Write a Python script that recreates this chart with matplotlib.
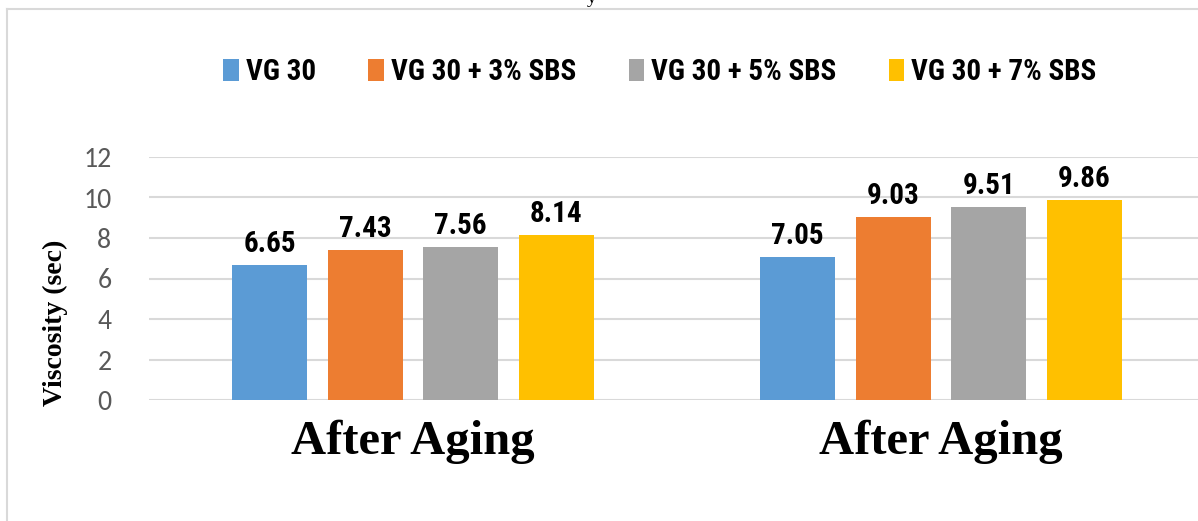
import matplotlib
matplotlib.use("Agg")
import matplotlib.pyplot as plt
from matplotlib.patches import Patch
from matplotlib.lines import Line2D
import numpy as np

categories = ["After Aging", "After Aging"]
series_names = ["VG 30", "VG 30 + 3% SBS", "VG 30 + 5% SBS", "VG 30 + 7% SBS"]
values = [
    [6.65, 7.05],
    [7.43, 9.03],
    [7.56, 9.51],
    [8.14, 9.86],
]
colors = ["#5B9BD5", "#ED7D31", "#A5A5A5", "#FFC000"]
yticks = [0, 2, 4, 6, 8, 10, 12]

narrow = ["Liberation Sans Narrow", "Arial Narrow", "Roboto Condensed", "PT Sans Narrow",
          "IBM Plex Sans Condensed", "DejaVu Sans"]
serif = ["Liberation Serif", "DejaVu Serif"]
tickfont = ["Carlito", "Roboto", "DejaVu Sans"]

W, H = 1198, 521
fig = plt.figure(figsize=(W / 100, H / 100), dpi=100)

# plot area in pixel terms
left, right = 149, 1205
bottom, top = 400, 157
ax = fig.add_axes([left / W, 1 - bottom / H, (right - left) / W, (bottom - top) / H])

step = 0.181
width = 0.142
x = np.arange(len(categories))
for i, (name, vals, c) in enumerate(zip(series_names, values, colors)):
    pos = x + (i - 1.5) * step
    ax.bar(pos, vals, width=width, color=c, zorder=3, label=name)
    for xi, v in zip(pos, vals):
        ax.annotate(f"{v:.2f}", (xi, v), xytext=(0, 5), textcoords="offset points",
                    ha="center", va="bottom", fontsize=21, fontweight="bold",
                    family=narrow, color="black")

ax.set_xlim(-0.5, 1.5)
ax.set_ylim(0, 12)
ax.set_yticks(yticks)
ax.set_yticklabels([str(t) for t in yticks], fontsize=20, color="#595959", family=tickfont)
ax.tick_params(axis="y", length=0, pad=27)
ax.set_xticks(x)
ax.set_xticklabels(categories, fontsize=35, fontweight="bold", family=serif)
ax.tick_params(axis="x", length=0, pad=14)
ax.grid(axis="y", color="#D9D9D9", linewidth=1.5, zorder=0)
for s in ax.spines.values():
    s.set_visible(False)

fig.text(55 / W, 1 - 323 / H, "Viscosity (sec)", rotation=90, ha="center", va="center",
         fontsize=20, fontweight="bold", family=serif)

# chart frame lines
fig.add_artist(Line2D([7 / W, 7 / W], [0, 1 - 9 / H], color="#D9D9D9", linewidth=1.5))
fig.add_artist(Line2D([7 / W, 1], [1 - 9 / H, 1 - 9 / H], color="#D9D9D9", linewidth=1.5))

# descender of a title above the frame
fig.text(592 / W, 1 - 3 / H, "y", ha="center", va="baseline", fontsize=14, family=serif)

handles = [Patch(facecolor=c) for c in colors]
fig.legend(handles, series_names, loc="center", bbox_to_anchor=(660 / W, 1 - 72 / H), ncol=4,
           frameon=False, prop={"family": narrow, "weight": "bold", "size": 21},
           handlelength=0.52, handleheight=0.8, handletextpad=0.25, columnspacing=1.8)

fig.savefig("out.png", dpi=100, facecolor="white")
